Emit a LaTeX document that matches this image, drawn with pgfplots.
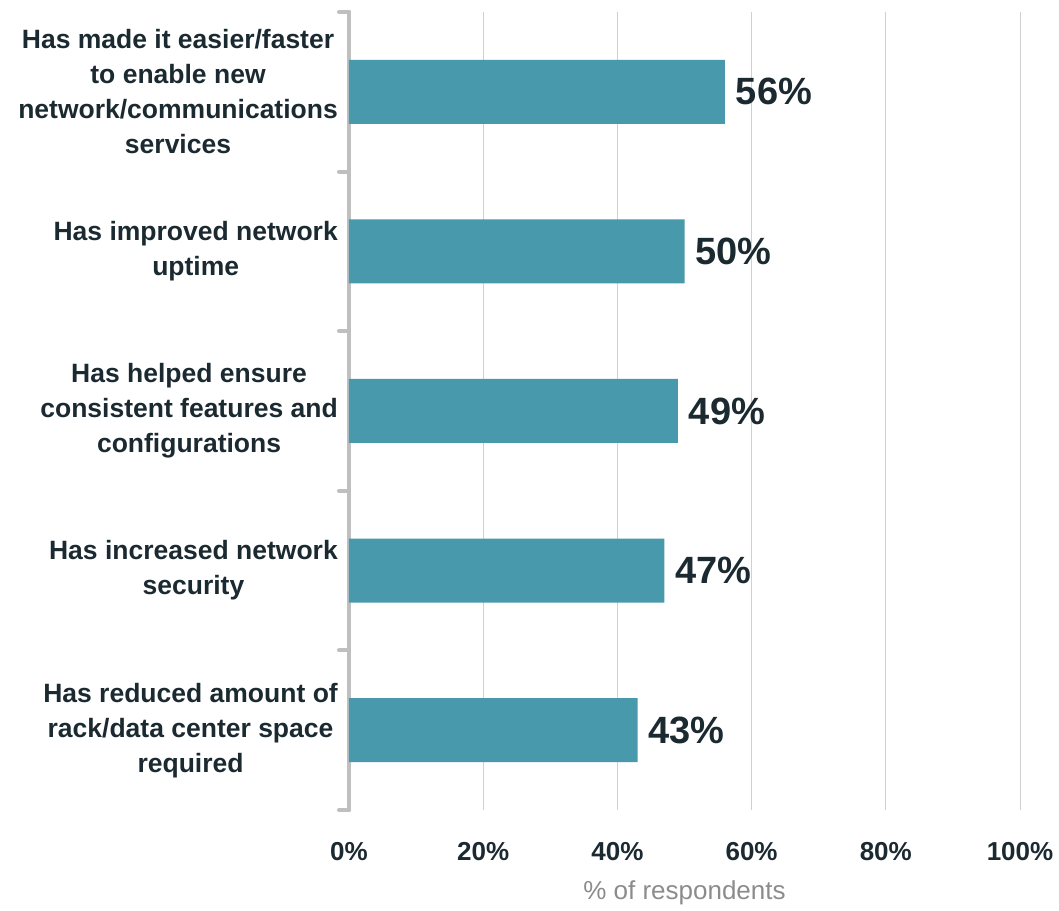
\documentclass[border=0pt]{standalone}
\usepackage{fontspec}
\setmainfont{Liberation Sans}
\usepackage{pgfplots}
\pgfplotsset{compat=1.18}

\definecolor{barcol}{HTML}{4899AB}
\definecolor{ink}{HTML}{1B2A31}
\definecolor{axgray}{HTML}{BFBFBF}
\definecolor{gridcol}{HTML}{D0D0D0}
\definecolor{lblgray}{HTML}{8C8C8C}

\begin{document}
\begin{tikzpicture}
\path[use as bounding box] (-349pt,-100pt) rectangle (710pt,810pt);
\begin{axis}[
    at={(0,0)}, anchor=south west,
    scale only axis, width=671pt, height=798pt,
    xbar, bar width=64pt,
    xmin=0, xmax=100, ymin=-0.5, ymax=4.5,
    /pgf/number format/assume math mode=true,
    axis lines*=left,
    axis line style={-},
    x axis line style={draw=none},
    y axis line style={draw=axgray, line width=4pt, line cap=round},
    xtick={0,20,40,60,80,100},
    xticklabels={0\%,20\%,40\%,60\%,80\%,100\%},
    xticklabel style={anchor=center, yshift=-42pt, text=ink,
        font=\bfseries\fontsize{26}{26}\selectfont},
    xmajorgrids,
    major grid style={draw=gridcol, line width=1pt},
    major tick length=0pt,
    ytick={0,1,2,3,4},
    yticklabels={
        {Has reduced amount of\\rack/data center space\\required},
        {Has increased network\\security},
        {Has helped ensure\\consistent features and\\configurations},
        {Has improved network\\uptime},
        {Has made it easier/faster\\to enable new\\network/communications\\services}},
    yticklabel style={align=center, anchor=east, inner sep=0pt, xshift=-11pt,
        text=ink, font=\bfseries\fontsize{26.5}{35}\selectfont},
    minor ytick={-0.5,0.5,1.5,2.5,3.5,4.5},
    minor tick length=10pt,
    tick align=outside,
    minor tick style={draw=axgray, line width=4pt, line cap=round},
    xlabel={\% of respondents},
    every axis x label/.style={at={(axis description cs:0.5,0)}, anchor=center,
        yshift=-83pt, text=lblgray, font=\fontsize{26}{26}\selectfont},
    nodes near coords={\pgfmathprintnumber{\pgfplotspointmeta}\%},
    nodes near coords style={anchor=west, inner sep=0pt, xshift=11pt, text=ink,
        font=\bfseries\fontsize{38}{38}\selectfont},
    clip=false,
]
\addplot[fill=barcol, draw=none] coordinates {
    (43,0) (47,1) (49,2) (50,3) (56,4)
};
\end{axis}
\end{tikzpicture}
\end{document}
